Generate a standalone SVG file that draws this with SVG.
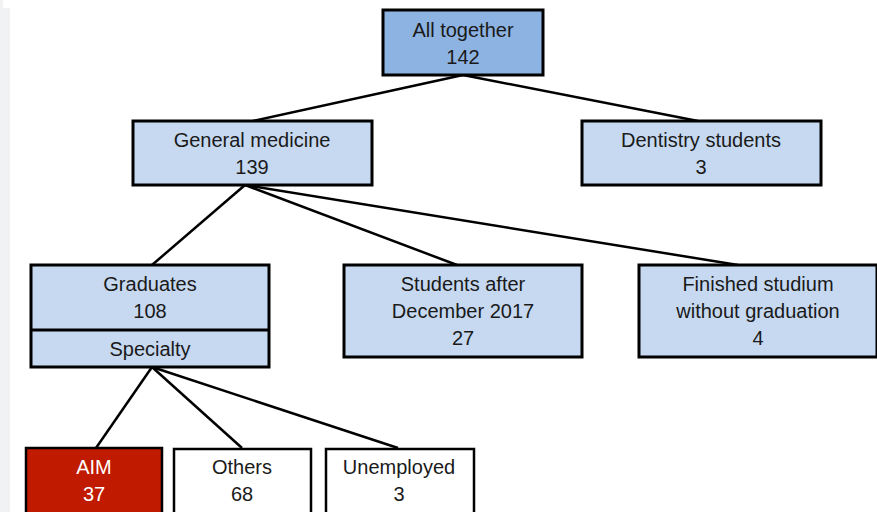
<svg xmlns="http://www.w3.org/2000/svg" width="877" height="512" viewBox="0 0 877 512">
<style>
.box{fill:#c6d9f1;stroke:#000;stroke-width:3}
.top{fill:#8db3e2;stroke:#000;stroke-width:3}
.wbox{fill:#fff;stroke:#000;stroke-width:2.5}
.red{fill:#c01a00;stroke:#000;stroke-width:2.5}
text{font-family:"Liberation Sans",Arial,sans-serif;font-size:20px;fill:#1a1a1a;text-anchor:middle}
.wt{fill:#fff}
.conn line{stroke:#000;stroke-width:2.5}
</style>
<rect width="877" height="512" fill="#fff"/>
<rect x="0" y="8" width="10" height="504" fill="#f1f2f4"/>
<rect x="0" y="0" width="3" height="8" fill="#f1f2f4"/>
<g class="conn" id="connectors">
<line x1="463" y1="75" x2="253" y2="121"/>
<line x1="463" y1="75" x2="698" y2="121"/>
<line x1="245" y1="185" x2="152" y2="265"/>
<line x1="245" y1="185" x2="457" y2="265"/>
<line x1="245" y1="185" x2="738" y2="265"/>
<line x1="152" y1="367" x2="96" y2="448"/>
<line x1="152" y1="367" x2="242" y2="448"/>
<line x1="152" y1="367" x2="398" y2="448"/>
</g>
<g id="all">
<rect class="top" x="383" y="10" width="160" height="65"/>
<text x="463" y="37">All together</text>
<text x="463" y="64">142</text>
</g>
<g id="general">
<rect class="box" x="133" y="121" width="239" height="64"/>
<text x="252" y="147">General medicine</text>
<text x="252" y="174">139</text>
</g>
<g id="dentistry">
<rect class="box" x="582" y="121" width="239" height="64"/>
<text x="701" y="147">Dentistry students</text>
<text x="701" y="174">3</text>
</g>
<g id="graduates">
<rect class="box" x="31" y="265" width="238" height="102"/>
<line x1="31" y1="330" x2="269" y2="330" stroke="#000" stroke-width="3"/>
<text x="150" y="291">Graduates</text>
<text x="150" y="318">108</text>
<text x="150" y="356">Specialty</text>
</g>
<g id="students">
<rect class="box" x="344" y="265" width="238" height="92"/>
<text x="463" y="291">Students after</text>
<text x="463" y="318">December 2017</text>
<text x="463" y="345">27</text>
</g>
<g id="finished">
<rect class="box" x="639" y="265" width="238" height="92"/>
<text x="758" y="291">Finished studium</text>
<text x="758" y="318">without graduation</text>
<text x="758" y="345">4</text>
</g>
<g id="aim">
<rect class="red" x="26" y="448" width="136" height="70"/>
<text class="wt" x="94" y="474">AIM</text>
<text class="wt" x="94" y="501">37</text>
</g>
<g id="others">
<rect class="wbox" x="174" y="449" width="137" height="70"/>
<text x="242" y="474">Others</text>
<text x="242" y="501">68</text>
</g>
<g id="unemployed">
<rect class="wbox" x="326" y="449" width="148" height="70"/>
<text x="399" y="474">Unemployed</text>
<text x="399" y="501">3</text>
</g>
</svg>
